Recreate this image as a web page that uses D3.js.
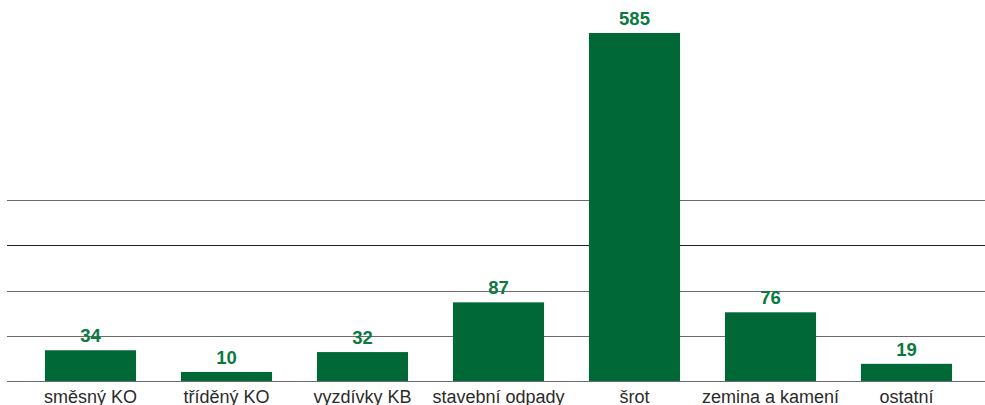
<!DOCTYPE html>
<html>
<head>
<meta charset="utf-8">
<script src="https://cdn.jsdelivr.net/npm/d3@7"></script>
<style>
  body { margin: 0; background: #fff; }
  svg { display: block; }
</style>
</head>
<body>
<div id="chart"></div>
<script>
// data
var categories = ['směsný KO', 'tříděný KO', 'vyzdívky KB', 'stavební odpady', 'šrot', 'zemina a kamení', 'ostatní'];
var values = [34, 10, 32, 87, 585, 76, 19];
var gridTicks = [0, 50, 100, 150, 200];

var width = 985, height = 405
  , baseY = 381
  , capValue = 385   // tallest bar is cut at this value
  , green = '#006837'
  , labelGreen = '#0b7a3f';

var svg = d3.select('#chart').append('svg')
    .attr('width', width)
    .attr('height', height);

var x = d3.scaleBand()
    .domain(categories)
    .range([22.5, 974.5])
    .paddingInner(0.33)
    .paddingOuter(0.165);

var y = d3.scaleLinear()
    .domain([0, capValue])
    .range([baseY, 33])
    .clamp(true);

// gridlines
svg.append('g')
    .attr('class', 'grid')
  .selectAll('line')
  .data(gridTicks)
  .enter().append('line')
    .attr('x1', 7)
    .attr('x2', width)
    .attr('y1', d => Math.round(y(d)) + 0.5)
    .attr('y2', d => Math.round(y(d)) + 0.5)
    .attr('stroke', d => d === 150 ? '#1e1e1e' : '#6a6a6a')
    .attr('stroke-width', 1);

var data = categories.map((c, i) => ({ cat: c, value: values[i] }));

// bars
svg.append('g')
  .selectAll('rect')
  .data(data)
  .enter().append('rect')
    .attr('x', d => x(d.cat))
    .attr('width', x.bandwidth())
    .attr('y', d => y(d.value))
    .attr('height', d => baseY - y(d.value))
    .attr('fill', green);

// value labels
svg.append('g')
  .selectAll('text')
  .data(data)
  .enter().append('text')
    .attr('x', d => x(d.cat) + x.bandwidth() / 2)
    .attr('y', d => y(d.value) - 8)
    .attr('text-anchor', 'middle')
    .style('font', 'bold 18.5px "Liberation Sans", Arial, sans-serif')
    .attr('fill', labelGreen)
    .text(d => d.value);

// category labels
svg.append('g')
  .selectAll('text')
  .data(categories)
  .enter().append('text')
    .attr('x', d => x(d) + x.bandwidth() / 2)
    .attr('y', 403)
    .attr('text-anchor', 'middle')
    .style('font', '18px "Liberation Sans", Arial, sans-serif')
    .attr('fill', '#2b2b2b')
    .text(d => d);
</script>
</body>
</html>
